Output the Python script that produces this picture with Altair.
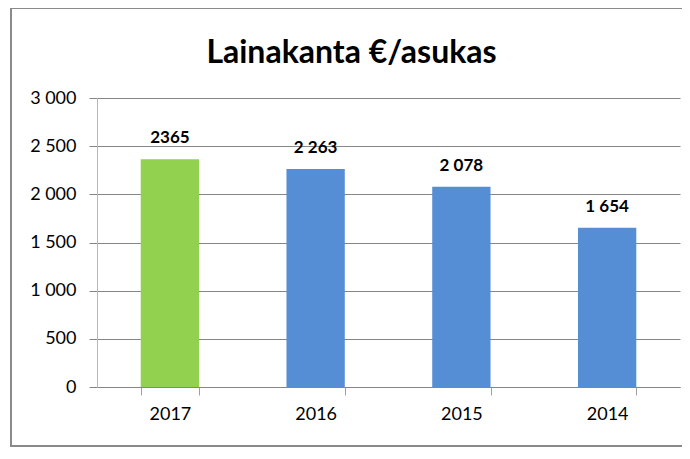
import altair as alt
import pandas as pd

years = ["2017", "2016", "2015", "2014"]
values = [2365, 2263, 2078, 1654]
labels = ["2365", "2 263", "2 078", "1 654"]
colors = ["#92D050", "#558ED5", "#558ED5", "#558ED5"]
title_text = "Lainakanta €/asukas"

df = pd.DataFrame({"year": years, "value": values, "label": labels, "color": colors})

W, H = 583, 289
FONT = "Lato"

frame = alt.Chart(pd.DataFrame({"k": [0]})).mark_rect(
    fillOpacity=0, stroke="#8a8a8a", strokeWidth=2
).encode(
    x=alt.value(-86), x2=alt.value(W + 30), y=alt.value(-90), y2=alt.value(348)
)

title = alt.Chart(pd.DataFrame({"t": [title_text]})).mark_text(
    font=FONT, fontSize=32, fontWeight="bold", color="#000000", baseline="alphabetic", align="center"
).encode(
    x=alt.value(W / 2 - 37), y=alt.value(-35), text="t:N"
)

xenc = alt.X(
    "year:N", sort=years, title=None,
    scale=alt.Scale(paddingInner=0.6, paddingOuter=0.3),
    axis=alt.Axis(labelAngle=0, labelFont=FONT, labelFontSize=18, labelColor="#000000",
                  domainColor="#868686", tickColor="#a0a0a0", tickSize=8, tickBand="extent",
                  labelPadding=10, grid=False),
)
yenc = alt.Y(
    "value:Q", title=None,
    scale=alt.Scale(domain=[0, 3000], nice=False),
    axis=alt.Axis(values=[0, 500, 1000, 1500, 2000, 2500, 3000],
                  labelExpr="replace(format(datum.value, ','), ',', ' ')",
                  labelFont=FONT, labelFontSize=18, labelColor="#000000",
                  domainColor="#b8b8b8", tickColor="#868686", tickSize=8,
                  gridColor="#868686", gridWidth=1, labelPadding=13),
)

bars = alt.Chart(df).mark_bar().encode(
    x=xenc, y=yenc, color=alt.Color("color:N", scale=None)
)

text = alt.Chart(df).mark_text(
    baseline="bottom", dy=-12, font=FONT, fontSize=17, fontWeight="bold", color="#000000"
).encode(
    x=alt.X("year:N", sort=years), y="value:Q", text="label:N"
)

chart = alt.layer(frame, title, bars, text).properties(
    width=W, height=H,
    background="white",
    padding={"left": 89, "top": 90, "right": 2, "bottom": 60},
    autosize=alt.AutoSizeParams(type="none"),
).configure_view(stroke=None)

chart.save("out.html", embed_options={"renderer": "svg", "actions": False})
